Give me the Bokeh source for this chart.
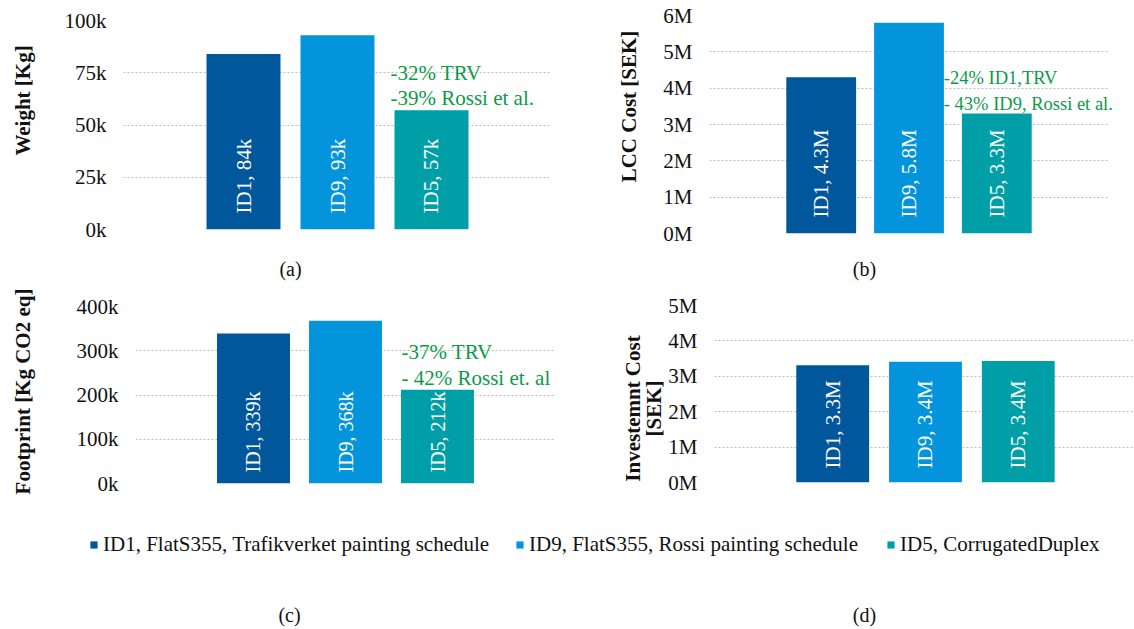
import math
from bokeh.plotting import figure
from bokeh.models import (FactorRange, Range1d, FixedTicker, Label, Legend,
                          LegendItem, ColumnDataSource, BoxAnnotation)
from bokeh.layouts import column, row
from bokeh.core.properties import value
from bokeh.transform import dodge
from bokeh.embed import file_html
from bokeh.resources import INLINE

# ---------------- data ----------------
ids = ["ID1", "ID9", "ID5"]
legend_labels = ["ID1, FlatS355, Trafikverket painting schedule",
                 "ID9, FlatS355, Rossi painting schedule",
                 "ID5, CorrugatedDuplex"]

weight = [84000, 93000, 57000]
weight_labels = ["ID1, 84k", "ID9, 93k", "ID5, 57k"]
weight_ticks = [0, 25000, 50000, 75000, 100000]
weight_tick_labels = ["0k", "25k", "50k", "75k", "100k"]
weight_note = "-32% TRV\n-39% Rossi et al."

lcc = [4300000, 5800000, 3300000]
lcc_labels = ["ID1, 4.3M", "ID9, 5.8M", "ID5, 3.3M"]
lcc_ticks = [0, 1000000, 2000000, 3000000, 4000000, 5000000, 6000000]
lcc_tick_labels = ["0M", "1M", "2M", "3M", "4M", "5M", "6M"]
lcc_note = "-24% ID1,TRV\n- 43% ID9, Rossi et al."

footprint = [339000, 368000, 212000]
footprint_labels = ["ID1, 339k", "ID9, 368k", "ID5, 212k"]
footprint_ticks = [0, 100000, 200000, 300000, 400000]
footprint_tick_labels = ["0k", "100k", "200k", "300k", "400k"]
footprint_note = "-37% TRV\n- 42% Rossi et. al"

invest = [3310000, 3410000, 3430000]
invest_labels = ["ID1, 3.3M", "ID9, 3.4M", "ID5, 3.4M"]
invest_ticks = [0, 1000000, 2000000, 3000000, 4000000, 5000000]
invest_tick_labels = ["0M", "1M", "2M", "3M", "4M", "5M"]

titles = ["Weight [Kg]", "LCC Cost [SEK]", "Footprint [Kg CO2 eq]",
          "Investemnt Cost", "[SEK]"]
captions = ["(a)", "(b)", "(c)", "(d)"]

# ---------------- style ----------------
colors = ["#00579B", "#0494DB", "#009FA8"]
GREEN = "#0A9B48"
SERIF = "Liberation Serif"
FS = "21px"
INK = "#111111"


def panel(vals, labels, ticks, tick_labels, width, height, borders, pad, bar_w,
          shift=0.0, lab_size=FS, lab_off=16):
    left, right, top, bottom = borders
    p = figure(width=width, height=height, title=None, frame_align=False,
               x_range=FactorRange(factors=ids, range_padding=pad, range_padding_units="absolute"),
               y_range=Range1d(ticks[0], ticks[-1]),
               toolbar_location=None, tools="", output_backend="svg",
               min_border_left=left, min_border_right=right,
               min_border_top=top, min_border_bottom=bottom)
    src = ColumnDataSource(dict(id=ids, v=vals, lab=labels, color=colors))
    xx = dodge("id", shift, range=p.x_range)
    p.vbar(x=xx, top="v", width=bar_w, fill_color="color", line_color=None, source=src)
    p.text(x=xx, y=0, text="lab", angle=math.pi / 2, text_align="left",
           text_baseline="middle", y_offset=-lab_off, text_color="white",
           text_font=value(SERIF), text_font_size=lab_size, source=src)
    p.xaxis.visible = False
    p.yaxis.ticker = FixedTicker(ticks=ticks)
    p.yaxis.major_label_overrides = {t: l for t, l in zip(ticks, tick_labels)}
    p.yaxis.axis_line_color = None
    p.yaxis.major_tick_line_color = None
    p.yaxis.minor_tick_line_color = None
    p.yaxis.major_tick_out = 0
    p.yaxis.major_tick_in = 0
    p.yaxis.major_label_standoff = 17
    p.yaxis.major_label_text_font = SERIF
    p.yaxis.major_label_text_font_size = FS
    p.yaxis.major_label_text_color = INK
    p.xgrid.visible = False
    p.ygrid.grid_line_color = "#BDBDBD"
    p.ygrid.grid_line_dash = "2 2"
    p.ygrid.grid_line_width = 1
    p.outline_line_color = None
    p.background_fill_color = "white"
    p.border_fill_color = "white"
    return p


def strip(width, height, x_range=None):
    s = figure(width=width, height=height, title=None, frame_align=False,
               x_range=x_range if x_range is not None else Range1d(0, 1),
               y_range=Range1d(0, 1), toolbar_location=None, tools="",
               output_backend="svg", min_border=0,
               x_axis_location=None, y_axis_location=None)
    s.grid.visible = False
    s.outline_line_color = None
    return s


def screen_label(p, text, x, y, size="20px", bold=False, angle=0.0):
    p.add_layout(Label(x=x, y=y, x_units="screen", y_units="screen", text=text,
                       angle=angle, text_align="center", text_baseline="middle",
                       text_font=SERIF, text_font_size=size,
                       text_font_style="bold" if bold else "normal",
                       text_color=INK))


def title_strip(texts, width, height, xs, y):
    s = strip(width, height)
    for t, x in zip(texts, xs):
        screen_label(s, t, x, y, size=FS, bold=True, angle=math.pi / 2)
    return s


def note(p, vals, text, x_offset, shift=0.0, size=FS, line_height=1.07):
    i = ids.index("ID5")
    # synthetic categorical coordinate of the ID5 factor (centre of its bar)
    p.add_layout(Label(x=i + 0.5 + shift, y=vals[i], x_offset=x_offset, y_offset=0,
                       text=text, text_align="left", text_baseline="bottom",
                       text_font=SERIF, text_font_size=size, text_color=GREEN,
                       text_line_height=line_height))


# panels
B_SHIFT = -0.148
fa = panel(weight, weight_labels, weight_ticks, weight_tick_labels,
           555, 250, (78, 49, 20, 21), 0.7766, 0.787)
fb = panel(lcc, lcc_labels, lcc_ticks, lcc_tick_labels,
           474, 250, (48, 0, 15, 17), 0.92, 0.795, shift=B_SHIFT)
fc = panel(footprint, footprint_labels, footprint_ticks, footprint_tick_labels,
           555, 215, (90, 45, 21, 17), 0.7826, 0.793, lab_size="20px", lab_off=11)
fd = panel(invest, invest_labels, invest_ticks, invest_tick_labels,
           469, 215, (48, 1, 20, 18), 0.758, 0.785, shift=0.016, lab_off=14)

# panel (b): the plotting area runs to the page edge so that its note is not cut;
# a white band hides the grid lines beyond where the reference's grid ends
fb.add_layout(BoxAnnotation(left=3.625, fill_color="white", fill_alpha=1.0,
                            line_color=None, level="underlay"))

note(fa, weight, weight_note, -41)
note(fb, lcc, lcc_note, -53, shift=B_SHIFT, size="18.5px", line_height=1.3)
note(fc, footprint, footprint_note, -36)

# axis titles in narrow strips left of each panel
ta = title_strip([titles[0]], 45, 250, [22], 150)
tb = title_strip([titles[1]], 60, 250, [28], 144)
tc = title_strip([titles[2]], 45, 215, [22], 109)
td = title_strip([titles[3], titles[4]], 65, 215, [32, 53], 92)

# captions (a), (b)
cap_ab = strip(1134, 35)
screen_label(cap_ab, captions[0], 290, 17)
screen_label(cap_ab, captions[1], 864, 17)

# ---------------- legend + lower captions ----------------
fl = strip(1134, 129, x_range=FactorRange(factors=ids))
leg_src = ColumnDataSource(dict(id=ids, color=colors))
proxy = fl.vbar(x="id", top=0, width=0, fill_color="color", line_color=None, source=leg_src)

legend_x = [89, 515, 886]
for i, (lab, lx) in enumerate(zip(legend_labels, legend_x)):
    lg = Legend(items=[LegendItem(label=lab, renderers=[proxy], index=i)], location=(lx, 72),
                orientation="horizontal", glyph_width=9, glyph_height=9,
                label_standoff=5, padding=0, margin=0, border_line_color=None,
                background_fill_alpha=0, label_text_font=SERIF,
                label_text_font_size=FS, label_text_color=INK)
    fl.add_layout(lg)

screen_label(fl, captions[2], 289, 15)
screen_label(fl, captions[3], 864, 15)

layout = column(row(ta, fa, tb, fb), cap_ab, row(tc, fc, td, fd), fl)
open("out.html", "w").write(file_html(layout, INLINE))
